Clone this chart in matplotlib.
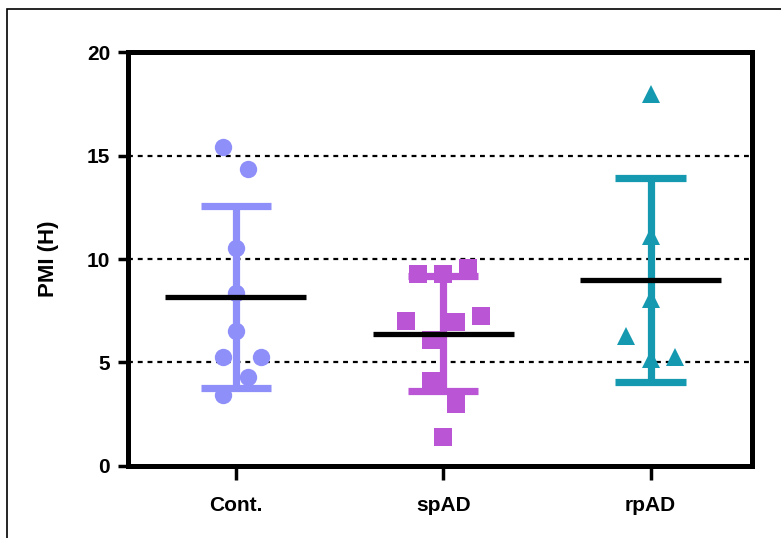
import numpy as np
import matplotlib
matplotlib.use('Agg')
from matplotlib import pyplot as plt
from matplotlib.patches import Rectangle

plt.rcParams['font.family'] = ['Liberation Sans', 'DejaVu Sans']
plt.rcParams['font.weight'] = 'bold'

groups = ['Cont.', 'spAD', 'rpAD']
colors = ['#8f8ffa', '#ba55d6', '#1499b0']
markers = ['o', 's', '^']

cont_pmi = [15.43, 14.36, 10.55, 8.34, 6.54, 5.28, 5.28, 4.30, 3.41]
spad_pmi = [9.28, 9.28, 9.55, 7.02, 6.97, 7.23, 6.07, 4.12, 2.98, 1.42]
rpad_pmi = [17.99, 11.13, 8.05, 6.28, 5.15, 5.28]

# horizontal scatter of the points around each category
cont_jitter = [-0.06, 0.06, 0, 0, 0, -0.06, 0.12, 0.06, -0.06]
spad_jitter = [-0.12, 0, 0.12, -0.18, 0.06, 0.18, -0.06, -0.06, 0.06, 0]
rpad_jitter = [0, 0, 0, -0.12, 0, 0.12]

values = [cont_pmi, spad_pmi, rpad_pmi]
jitters = [cont_jitter, spad_jitter, rpad_jitter]

fig = plt.figure(figsize=(7.81, 5.38), dpi=100)
ax = fig.add_axes([0.164, 0.134, 0.799, 0.769])

for i, (vals, jit) in enumerate(zip(values, jitters)):
    vals = np.array(vals)
    x = i + np.array(jit)
    ax.plot(x, vals, linestyle='none', marker=markers[i], ms=12.5,
            color=colors[i], markeredgewidth=0, zorder=3)
    m = vals.mean()
    sd = vals.std(ddof=1)
    ax.plot([i, i], [m - sd, m + sd], color=colors[i], lw=5.2, zorder=4,
            solid_capstyle='butt')
    for y in (m - sd, m + sd):
        ax.plot([i - 0.17, i + 0.17], [y, y], color=colors[i], lw=5.2,
                zorder=4, solid_capstyle='butt')
    ax.plot([i - 0.34, i + 0.34], [m, m], color='black', lw=3.8,
            zorder=5, solid_capstyle='butt')

for y in (5, 10, 15):
    ax.axhline(y, color='black', lw=1.6, linestyle=(0, (2.2, 2.2)), zorder=1)

ax.set_xlim(-0.52, 2.49)
ax.set_ylim(0, 20)
ax.set_yticks([0, 5, 10, 15, 20])
ax.set_xticks(range(3))
ax.set_xticklabels(groups)
ax.set_ylabel('PMI (H)', fontsize=16, fontweight='bold', labelpad=20)

for s in ax.spines.values():
    s.set_linewidth(3.6)
ax.tick_params(axis='y', direction='out', length=7, width=2.5,
               labelsize=15, pad=6)
ax.tick_params(axis='x', direction='out', length=10, width=2.5,
               labelsize=15, pad=12)

# outer frame of the original figure
fig.patches.append(Rectangle((0.009, -0.5), 2, 1.483, fill=False,
                             edgecolor='black', lw=1.2,
                             transform=fig.transFigure, figure=fig))

plt.savefig('out.png', dpi=100)
